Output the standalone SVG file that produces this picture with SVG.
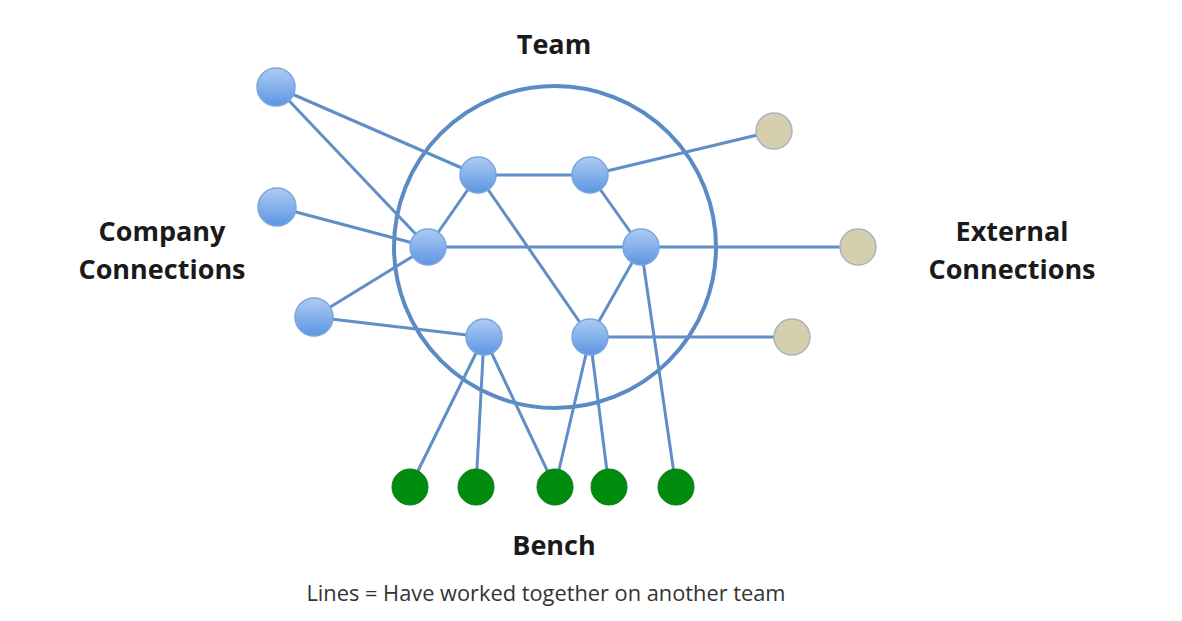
<svg xmlns="http://www.w3.org/2000/svg" width="1182" height="621" viewBox="0 0 1182 621">
<style>
.edge{stroke:#5f8fc6;stroke-width:3;fill:none}
.team{fill:none;stroke:#5a8bc5;stroke-width:4}
.blue{fill:url(#gb);stroke:#7aa6dc;stroke-width:1.5}
.tan{fill:#d6cfae;stroke:#a9b4c0;stroke-width:1.5}
.green{fill:#008c0e;stroke:#0a7a14;stroke-width:1}
.lbl{font-family:"Open Sans","Liberation Sans",sans-serif;font-weight:bold;font-size:27px;fill:#1a1a1a;text-anchor:middle}
.cap{font-family:"Open Sans","Liberation Sans",sans-serif;font-size:21.8px;fill:#333;text-anchor:middle}
</style>
<defs>
<linearGradient id="gb" x1="0" y1="0" x2="0" y2="1">
<stop offset="0" stop-color="#aecbf3"/>
<stop offset="1" stop-color="#5c96e3"/>
</linearGradient>
</defs>
<circle class="team" cx="555" cy="247" r="161"/>
<g id="connectors">
<line class="edge" x1="276" y1="87" x2="478" y2="175"/>
<line class="edge" x1="276" y1="87" x2="428" y2="247"/>
<line class="edge" x1="277" y1="207" x2="428" y2="247"/>
<line class="edge" x1="314" y1="317" x2="428" y2="247"/>
<line class="edge" x1="314" y1="317" x2="484" y2="337"/>
<line class="edge" x1="478" y1="175" x2="590" y2="175"/>
<line class="edge" x1="478" y1="175" x2="428" y2="247"/>
<line class="edge" x1="478" y1="175" x2="590" y2="337"/>
<line class="edge" x1="590" y1="175" x2="774" y2="131"/>
<line class="edge" x1="590" y1="175" x2="641" y2="247"/>
<line class="edge" x1="428" y1="247" x2="858" y2="247"/>
<line class="edge" x1="641" y1="247" x2="590" y2="337"/>
<line class="edge" x1="641" y1="247" x2="676" y2="487"/>
<line class="edge" x1="590" y1="337" x2="792" y2="337"/>
<line class="edge" x1="484" y1="337" x2="410" y2="487"/>
<line class="edge" x1="484" y1="337" x2="476" y2="487"/>
<line class="edge" x1="484" y1="337" x2="555" y2="487"/>
<line class="edge" x1="590" y1="337" x2="555" y2="487"/>
<line class="edge" x1="590" y1="337" x2="609" y2="487"/>
</g>
<g id="n-a"><circle class="blue" cx="276" cy="87" r="19"/></g>
<g id="n-b"><circle class="blue" cx="277" cy="207" r="19"/></g>
<g id="n-c"><circle class="blue" cx="314" cy="317" r="19"/></g>
<g id="t1"><circle class="blue" cx="478" cy="175" r="18"/></g>
<g id="t2"><circle class="blue" cx="590" cy="175" r="18"/></g>
<g id="t3"><circle class="blue" cx="428" cy="247" r="18"/></g>
<g id="t4"><circle class="blue" cx="641" cy="247" r="18"/></g>
<g id="t5"><circle class="blue" cx="484" cy="337" r="18"/></g>
<g id="t6"><circle class="blue" cx="590" cy="337" r="18"/></g>
<g id="e1"><circle class="tan" cx="774" cy="131" r="18"/></g>
<g id="e2"><circle class="tan" cx="858" cy="247" r="18"/></g>
<g id="e3"><circle class="tan" cx="792" cy="337" r="18"/></g>
<g id="g1"><circle class="green" cx="410" cy="487" r="18"/></g>
<g id="g2"><circle class="green" cx="476" cy="487" r="18"/></g>
<g id="g3"><circle class="green" cx="555" cy="487" r="18"/></g>
<g id="g4"><circle class="green" cx="609" cy="487" r="18"/></g>
<g id="g5"><circle class="green" cx="676" cy="487" r="18"/></g>
<g id="label-team"><text class="lbl" x="554" y="54">Team</text></g>
<g id="label-company"><text class="lbl" x="162" y="241">Company</text><text class="lbl" x="162" y="279">Connections</text></g>
<g id="label-external"><text class="lbl" x="1012" y="241">External</text><text class="lbl" x="1012" y="279">Connections</text></g>
<g id="label-bench"><text class="lbl" x="554" y="555">Bench</text></g>
<g id="caption"><text class="cap" x="546" y="601">Lines = Have worked together on another team</text></g>
</svg>
